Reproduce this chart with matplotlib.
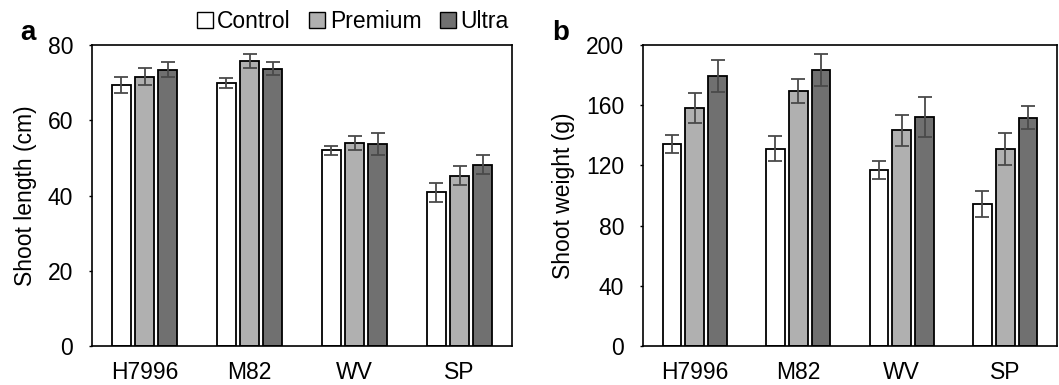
import matplotlib
matplotlib.use('Agg')
import matplotlib.pyplot as plt
import numpy as np
from matplotlib.patches import Patch

plt.rcParams['font.family'] = ['Liberation Sans', 'DejaVu Sans']

cultivars = ['H7996', 'M82', 'WV', 'SP']
treatments = ['Control', 'Premium', 'Ultra']

# panel a: shoot length (cm)
length_control = [69.4, 70.0, 52.0, 40.8]
length_premium = [71.6, 75.7, 53.9, 45.3]
length_ultra = [73.4, 73.7, 53.7, 48.2]
length_control_err = [2.1, 1.3, 1.2, 2.5]
length_premium_err = [2.2, 1.8, 1.8, 2.6]
length_ultra_err = [2.0, 1.7, 3.0, 2.5]

# panel b: shoot weight (g)
weight_control = [134.2, 131.1, 116.9, 94.1]
weight_premium = [157.9, 169.4, 143.3, 131.1]
weight_ultra = [179.4, 183.4, 152.0, 151.7]
weight_control_err = [5.8, 8.2, 6.2, 8.7]
weight_premium_err = [10.0, 8.0, 10.4, 10.6]
weight_ultra_err = [10.6, 10.6, 13.2, 7.8]

colors = ['#ffffff', '#b0b0b0', '#707070']
FS = 16.5


def draw_panel(ax, vals, errs, ylim, yticks, ylabel):
    x = np.arange(len(cultivars))
    w = 0.18
    step = 0.22
    for i, (v, e) in enumerate(zip(vals, errs)):
        ax.bar(x + (i - 1) * step, v, width=w, color=colors[i],
               edgecolor='black', linewidth=1.3, zorder=2)
        ax.errorbar(x + (i - 1) * step, v, yerr=e, fmt='none',
                    ecolor='#4a4a4a', elinewidth=1.3, capsize=5,
                    capthick=1.3, zorder=3)
    ax.set_xlim(-0.5, len(cultivars) - 0.5)
    ax.set_ylim(*ylim)
    ax.set_yticks(yticks)
    ax.set_xticks(x)
    ax.set_xticklabels(cultivars)
    ax.tick_params(axis='x', length=0, pad=10.5, labelsize=FS)
    ax.tick_params(axis='y', length=2.5, width=1, pad=11, labelsize=FS,
                   direction='out')
    ax.set_ylabel(ylabel, fontsize=FS, labelpad=8)
    for s in ax.spines.values():
        s.set_linewidth(1.2)


fig = plt.figure(figsize=(10.59, 3.85), dpi=100)
ax1 = fig.add_axes([0.0869, 0.1013, 0.3966, 0.7818])
ax2 = fig.add_axes([0.6072, 0.1013, 0.3909, 0.7818])

draw_panel(ax1, [length_control, length_premium, length_ultra],
           [length_control_err, length_premium_err, length_ultra_err],
           (0, 80), [0, 20, 40, 60, 80], 'Shoot length (cm)')
draw_panel(ax2, [weight_control, weight_premium, weight_ultra],
           [weight_control_err, weight_premium_err, weight_ultra_err],
           (0, 200), [0, 40, 80, 120, 160, 200], 'Shoot weight (g)')

fig.text(0.019, 0.897, 'a', fontsize=20, fontweight='bold')
fig.text(0.521, 0.897, 'b', fontsize=20, fontweight='bold')

handles = [Patch(facecolor=c, edgecolor='black', linewidth=1) for c in colors]
fig.legend(handles, treatments, loc='center', bbox_to_anchor=(0.333, 0.943),
           ncol=3, frameon=False, fontsize=FS, handlelength=0.7,
           handleheight=0.7, handletextpad=0.2, columnspacing=0.8,
           borderpad=0)

fig.savefig('out.png', dpi=100)
